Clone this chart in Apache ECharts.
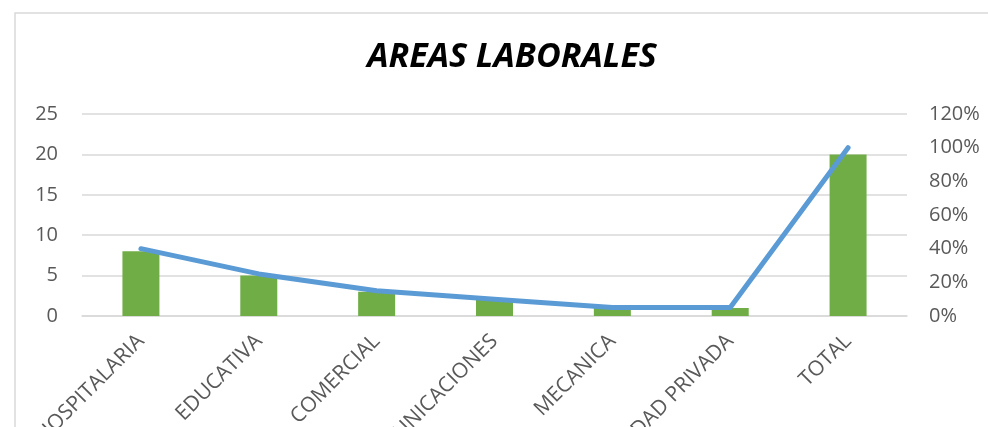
<!DOCTYPE html>
<html>
<head>
<meta charset="utf-8">
<script src="https://cdn.jsdelivr.net/npm/echarts@6/dist/echarts.min.js"></script>
<style>
  html, body { margin: 0; padding: 0; background: #fff; }
  #chartAreas { width: 988px; height: 427px; }
</style>
</head>
<body>
<div id="chartAreas"></div>
<script>
var categories = ['HOSPITALARIA', 'EDUCATIVA', 'COMERCIAL', 'COMUNICACIONES', 'MECANICA', 'SEGURIDAD PRIVADA', 'TOTAL'];
var counts = [8, 5, 3, 2, 1, 1, 20];
var percents = [0.40, 0.25, 0.15, 0.10, 0.05, 0.05, 1.00];
var leftTicks = { min: 0, max: 25, interval: 5 };
var rightTicks = { min: 0, max: 1.2, interval: 0.2 };

var textFont = '"Open Sans", "DejaVu Sans", sans-serif';
var greyText = '#595959';
var gridGrey = '#d9d9d9';

var chartAreas = function(){
    var myChart = echarts.init(document.getElementById('chartAreas'));
    myChart.clear();

    var option = {
        animation: false,
        // marco del grafico (recortado por la captura)
        graphic: [{
            type: 'rect',
            shape: { x: 15, y: 13, width: 1200, height: 600 },
            style: { fill: 'none', stroke: gridGrey, lineWidth: 1.5 },
            silent: true
        }],
        title: {
            text: 'AREAS LABORALES',
            left: 507,
            top: 35,
            textAlign: 'center',
            textStyle: {
                fontFamily: textFont,
                fontSize: 34,
                fontWeight: 'bold',
                fontStyle: 'italic',
                color: '#000'
            }
        },
        grid: {
            left: 82,
            right: 81,
            top: 114,
            bottom: 111,
            containLabel: false,
            outerBoundsMode: 'none'
        },
        xAxis: {
            type: 'category',
            data: categories,
            axisLine: { lineStyle: { color: gridGrey, width: 1.5 } },
            axisTick: { show: false },
            axisLabel: {
                rotate: 45,
                interval: 0,
                margin: 22,
                color: greyText,
                fontFamily: textFont,
                fontSize: 21
            }
        },
        yAxis: [
            {
                type: 'value',
                min: leftTicks.min,
                max: leftTicks.max,
                interval: leftTicks.interval,
                axisLine: { show: false },
                axisTick: { show: false },
                splitLine: { lineStyle: { color: gridGrey, width: 1.5 } },
                axisLabel: {
                    margin: 24,
                    color: greyText,
                    fontFamily: textFont,
                    fontSize: 20
                }
            },
            {
                type: 'value',
                min: rightTicks.min,
                max: rightTicks.max,
                interval: rightTicks.interval,
                axisLine: { show: false },
                axisTick: { show: false },
                splitLine: { show: false },
                axisLabel: {
                    margin: 22,
                    color: greyText,
                    fontFamily: textFont,
                    fontSize: 20,
                    formatter: function (v) { return Math.round(v * 100) + '%'; }
                }
            }
        ],
        series: [
            {
                name: 'Cantidad',
                type: 'bar',
                data: counts,
                barWidth: 37,
                itemStyle: { color: '#70AD47' },
                z: 2
            },
            {
                name: 'Porcentaje',
                type: 'line',
                yAxisIndex: 1,
                data: percents,
                showSymbol: false,
                symbol: 'none',
                lineStyle: { color: '#5B9BD5', width: 5, cap: 'round', join: 'round' },
                z: 3
            }
        ]
    };
    myChart.setOption(option);
};

chartAreas();
</script>
</body>
</html>
